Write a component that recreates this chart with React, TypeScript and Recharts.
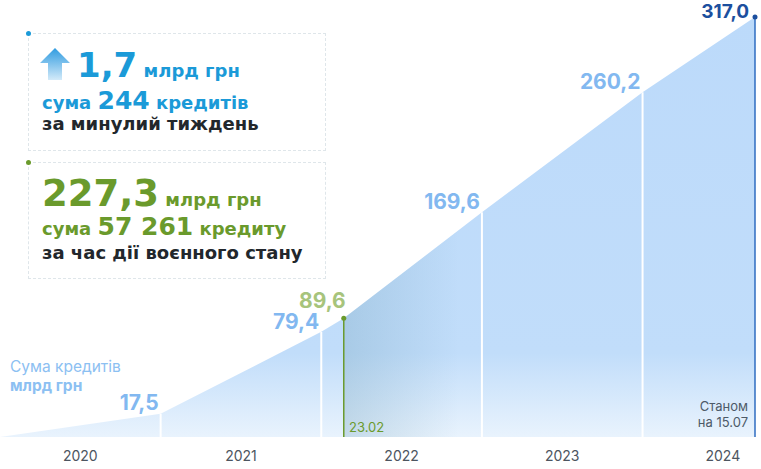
import React from 'react';
import {
  AreaChart, Area, XAxis, YAxis, ReferenceLine, ReferenceDot, LabelList,
} from 'recharts';

// positions along the time axis (years since start of 2020), as the infographic lays them out
const xPos = [0, 1, 2, 2.14, 3, 4, 4.7];
const totals = [0, 17.5, 79.4, 89.6, 169.6, 260.2, 317.0];
const valueLabels = ['', '17,5', '79,4', '89,6', '169,6', '260,2', '317,0'];
const years = ['2020', '2021', '2022', '2023', '2024'];
const yearTicks = years.map((_, i) => i + 0.5);

const WAR_IDX = 3;
const LAST_IDX = totals.length - 1;

const data = xPos.map((x, i) => ({
  x,
  total: totals[i],
  war: i >= WAR_IDX ? totals[i] : null,
  label: valueLabels[i],
}));

const FONT = 'Inter, "Noto Sans", sans-serif';
const WIDE = '"DejaVu Sans", Verdana, sans-serif';
const BLUE = '#1b9ad8';
const GREEN = '#6a9a2c';
const DARK = '#22272c';

const renderValue = (props: any) => {
  const { x, y, index, value } = props;
  if (!value) return null;
  let fill = '#82b8f0';
  let dx = -2;
  let dy = -3;
  if (index === WAR_IDX) { fill = '#a7c47c'; dy = -10; dx = 2; }
  if (index === 1) dy = -4;
  if (index === LAST_IDX) { fill = '#1c4f9e'; dx = -6; dy = 1; }
  return (
    <text x={x + dx} y={y + dy} textAnchor="end" fill={fill}
      fontSize={index === LAST_IDX ? 19 : 21} fontWeight={700} fontFamily={FONT}>
      {value}
    </text>
  );
};

const UpArrow = () => (
  <svg width={32} height={34} style={{ position: 'absolute', left: 39, top: 47 }}>
    <defs>
      <linearGradient id="arrowGrad" x1="0" y1="0" x2="0" y2="1">
        <stop offset="0%" stopColor="#2f9be0" />
        <stop offset="100%" stopColor="#d3eaf9" />
      </linearGradient>
    </defs>
    <polygon points="16,1 31,16 23,16 23,33 9,33 9,16 1,16" fill="url(#arrowGrad)" />
  </svg>
);

const boxStyle = (top: number, height: number): React.CSSProperties => ({
  position: 'absolute', left: 28, top, width: 298, height,
  border: '1px dashed #dfe6ea', boxSizing: 'border-box',
});

const dot = (top: number, color: string): React.CSSProperties => ({
  position: 'absolute', left: 26, top: top - 2, width: 5, height: 5,
  borderRadius: '50%', background: color,
});

const line = (top: number, color: string, size: number): React.CSSProperties => ({
  position: 'absolute', left: 42, top, whiteSpace: 'nowrap',
  color, fontSize: size, fontWeight: 700, fontFamily: WIDE, lineHeight: 1,
});

export default function App() {
  return (
    <div style={{ position: 'absolute', left: 0, top: 0, width: 761, height: 469, background: '#fff', overflow: 'hidden' }}>
      <AreaChart width={761} height={469} data={data}
        margin={{ top: 17, right: 6, bottom: 2, left: 0 }}>
        <defs>
          <linearGradient id="mainFill" x1="0" y1="0" x2="0" y2="1">
            <stop offset="0%" stopColor="#bcdafa" />
            <stop offset="80%" stopColor="#c1ddfa" />
            <stop offset="100%" stopColor="#e9f3fd" />
          </linearGradient>
          <linearGradient id="warShade" x1="0" y1="0" x2="1" y2="0">
            <stop offset="0%" stopColor="#6f9fb8" stopOpacity={0.3} />
            <stop offset="28%" stopColor="#6f9fb8" stopOpacity={0} />
          </linearGradient>
        </defs>
        <XAxis dataKey="x" type="number" domain={[0, 4.7]} ticks={yearTicks}
          tickFormatter={(v: number) => years[Math.floor(v)]}
          axisLine={false} tickLine={false} height={30} tickMargin={8}
          tick={{ fill: '#4d5560', fontSize: 14, fontFamily: FONT }} />
        <YAxis hide domain={[0, 317]} />
        <Area type="linear" dataKey="total" stroke="none" fill="url(#mainFill)"
          fillOpacity={1} isAnimationActive={false} dot={false} activeDot={false}>
          <LabelList dataKey="label" content={renderValue} />
        </Area>
        <Area type="linear" dataKey="war" stroke="none" fill="url(#warShade)"
          fillOpacity={1} isAnimationActive={false} dot={false} activeDot={false} />
        {[1, 2, 4, 5].map((i) => (
          <ReferenceLine key={i} segment={[{ x: xPos[i], y: 0 }, { x: xPos[i], y: totals[i] }]}
            stroke="#ffffff" strokeWidth={2} />
        ))}
        <ReferenceLine segment={[{ x: xPos[WAR_IDX], y: 0 }, { x: xPos[WAR_IDX], y: totals[WAR_IDX] }]}
          stroke={GREEN} strokeWidth={1.5} />
        <ReferenceDot x={xPos[WAR_IDX]} y={totals[WAR_IDX]} r={2.5} fill={GREEN} stroke="none" />
        <ReferenceLine segment={[{ x: xPos[LAST_IDX], y: 0 }, { x: xPos[LAST_IDX], y: totals[LAST_IDX] }]}
          stroke="#2f6cc0" strokeWidth={1.5} />
        <ReferenceDot x={xPos[LAST_IDX]} y={totals[LAST_IDX]} r={2.5} fill="#1c4f9e" stroke="none" />
      </AreaChart>

      {/* axis caption */}
      <div style={{ position: 'absolute', left: 10, top: 357, fontFamily: FONT, fontSize: 15.5, color: '#8cc0f2', lineHeight: '19px' }}>
        <div>Сума кредитів</div>
        <div style={{ fontWeight: 700 }}>млрд грн</div>
      </div>
      <div style={{ position: 'absolute', left: 349, top: 419, fontFamily: FONT, fontSize: 13, color: GREEN }}>23.02</div>
      <div style={{ position: 'absolute', right: 13, top: 398, fontFamily: FONT, fontSize: 13, color: '#4d5a68', textAlign: 'right', lineHeight: '16px' }}>
        <div>Станом</div>
        <div>на 15.07</div>
      </div>

      {/* info boxes */}
      <div style={boxStyle(33, 118)} />
      <div style={dot(33, BLUE)} />
      <UpArrow />
      <div style={{ ...line(48, BLUE, 34), left: 77 }}>
        1,7<span style={{ fontSize: 18 }}> млрд грн</span>
      </div>
      <div style={line(88, BLUE, 18)}>
        сума <span style={{ fontSize: 25 }}>244</span> кредитів
      </div>
      <div style={line(115, DARK, 18)}>за минулий тиждень</div>

      <div style={boxStyle(162, 117)} />
      <div style={dot(162, GREEN)} />
      <div style={line(175, GREEN, 37)}>
        227,3<span style={{ fontSize: 18 }}> млрд грн</span>
      </div>
      <div style={line(214, GREEN, 18)}>
        сума <span style={{ fontSize: 25 }}>57 261</span> кредиту
      </div>
      <div style={line(244, DARK, 18)}>за час дії воєнного стану</div>
    </div>
  );
}
